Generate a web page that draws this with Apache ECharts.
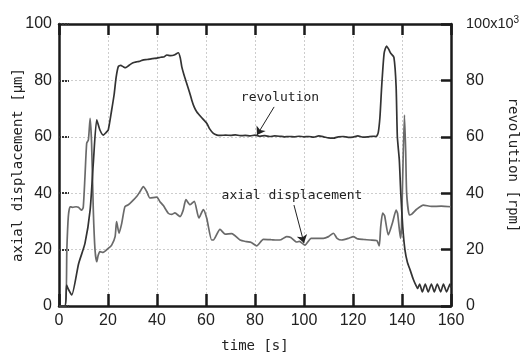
<!DOCTYPE html>
<html>
<head>
<meta charset="utf-8">
<script src="https://cdn.jsdelivr.net/npm/echarts@6/dist/echarts.min.js"></script>
<style>html,body{margin:0;padding:0;background:#fff}#c{width:522px;height:356px}</style>
</head>
<body>
<div id="c"></div>
<script>
// ---- data ----
const xTicks = [0, 20, 40, 60, 80, 100, 120, 140, 160];
const yTicks = [0, 20, 40, 60, 80, 100];

const revTime = [0,2.5,3.1,3.8,5.2,8,10.6,12.7,14,15.4,16.7,18.1,19.2,20.1,21.5,22.5,23.3,24.2,25.2,26.3,27.2,28.5,30,31.7,33,34.5,36,38,40,41.5,43,44,45.5,47,48.7,49.5,50.1,51,52.1,53.2,54.2,55.2,56.2,58,60.3,61.5,63,64.5,66,68,70,72,74,76,78,80,82,84,86,88,90,92,94,96,98,100,102,104,106,108,110,112,114,116,118,120,122,124,126,128,129.5,130.3,131,131.7,132.7,133.7,134.6,135.4,136.7,137.6,138.1,138.9,139.5,140.3,141.2,142.2,143.3,144.6,145.6,146.4,147.2,148.3,149.5,150.7,152,153.2,154.4,155.8,156.9,158.2,159.6,160];
const revValue = [0,0,7.4,6,3.9,15,22.2,34,50.6,66,62.4,60.6,61.5,62.4,69.5,75,81,84.9,85.3,84.8,84.5,85.3,86.2,86.6,86.8,87.3,87.4,87.7,87.9,88.2,88.4,89,88.8,89,89.8,88,84.9,82,79,76,73,70.5,68.9,67,64.8,62.8,61.2,60.6,60.5,60.6,60.5,60.7,60.4,60.5,60.3,60.6,60.2,60.4,60.1,60.3,60.2,60.0,60.1,60.0,60.2,60.0,60.1,59.9,60.3,60.0,59.6,59.5,60.0,60.1,59.8,59.9,60.3,59.9,60.0,60.2,60.1,61.5,67,77.8,89.6,92.2,91,89.6,88.2,77.8,60,51.8,40,28.1,19.9,15.5,12.8,9.5,7.5,6.2,7.8,5,7.8,5,7.8,5,7.8,5,7.8,5,7.8,6.5];

const dispTime = [0,2.6,3.2,3.8,4.5,5.5,7,7.9,9.3,9.9,10.6,11.3,12,12.7,13.3,14,14.7,15.4,16,16.7,18,20.1,21.5,22.9,23.5,24.5,25.6,26.9,28.3,29.7,31.7,33.1,34.4,35.8,37.1,39.9,41.2,42.6,44.6,46,47.3,49.4,50.7,51.8,53.5,55.2,57.1,58.9,60.3,62.3,63,65.7,67.8,70.5,73.9,76.6,78.5,80.7,83.4,86.6,88.8,90.6,92.9,94.6,97,98.1,100.4,102.9,105,107.9,110,112,113.5,115.4,118.5,120.1,122,124.2,127,129.7,130.7,131.3,132.1,132.9,134.4,136.2,137.6,138.2,139.4,139.8,140.4,141,141.5,141.9,143,144,146,148.7,152,156,160];
const dispValue = [0,0,20,31.7,35.2,35,35.2,35,34,35,45.9,57.7,58.9,66.5,57.7,34,19.9,15.7,18,19.3,19,20.4,21.6,24.6,29.9,25.8,29.3,35.2,35.9,37,38.8,40.6,42.3,40.6,38.3,38.6,37,35.6,32.9,32.5,33,31.7,34,37.7,35.9,37.1,31.2,34.2,31.1,23.4,23.4,27.2,25.5,25.7,23.4,22.8,22.5,21.3,23.6,23.5,23.4,23.5,24.6,24.3,22.7,22.9,21.6,24,24,24,24.6,25.8,24,23.4,24.1,24.6,23.8,23.6,23.4,23.2,21.3,28,32.9,32,25.2,29.8,34,32.8,24,28,50,67.7,55,40,32.3,32.6,34.3,35.8,35.3,35.4,35.2];

// annotations (data coordinates)
const revLabel = {text: 'revolution', at: [90.2, 73.8], from: [87.8, 70.6], to: [80.8, 60.6]};
const dispLabel = {text: 'axial displacement', at: [95.1, 39.0], from: [95.9, 35.8], to: [100.0, 22.3]};

const zip = (a, b) => a.map((t, i) => [t, b[i]]);

const tickFont = 'Liberation Sans Narrow, Liberation Sans, Arial, sans-serif';
const monoFont = 'DejaVu Sans Mono, monospace';

const chart = echarts.init(document.getElementById('c'), null, {renderer: 'canvas'});

function annot(lbl) {
  return {
    markPoint: {
      symbol: 'rect', symbolSize: 1, silent: true,
      itemStyle: {color: 'rgba(0,0,0,0)'},
      label: {show: true, position: 'inside', formatter: lbl.text, color: '#222', fontFamily: monoFont, fontSize: 13},
      data: [{coord: lbl.at}]
    },
    markLine: {
      silent: true, symbol: ['none', 'arrow'], symbolSize: 8,
      lineStyle: {color: '#222', width: 1, type: 'solid'},
      label: {show: false},
      data: [[{coord: lbl.from}, {coord: lbl.to}]]
    }
  };
}

const gridLine = {color: '#cdcdcd', type: [2, 2], width: 1};

chart.setOption({
  animation: false,
  backgroundColor: '#fff',
  grid: {left: 59, right: 71, top: 24, bottom: 50, containLabel: false, outerBoundsMode: 'none'},
  xAxis: [{
    type: 'value', min: 0, max: 160, interval: 20, position: 'bottom',
    name: 'time [s]', nameLocation: 'middle', nameGap: 33, nameMoveOverlap: false,
    nameTextStyle: {fontFamily: monoFont, fontSize: 14, color: '#222'},
    axisLine: {show: true, onZero: false, lineStyle: {color: '#1a1a1a', width: 2.5}},
    axisTick: {show: true, inside: true, length: 12, lineStyle: {color: '#1a1a1a', width: 2.5}},
    axisLabel: {show: true, margin: 7, fontFamily: tickFont, fontSize: 16, color: '#222',
      formatter: v => xTicks.includes(v) ? String(v) : ''},
    splitLine: {show: true, lineStyle: gridLine}
  }, {
    type: 'value', min: 0, max: 160, interval: 20, position: 'top',
    axisLine: {show: true, onZero: false, lineStyle: {color: '#1a1a1a', width: 2.5}},
    axisTick: {show: true, inside: true, length: 11, lineStyle: {color: '#1a1a1a', width: 2.5}},
    axisLabel: {show: false},
    splitLine: {show: false}
  }],
  yAxis: [{
    type: 'value', min: 0, max: 100, interval: 20, position: 'left',
    name: 'axial displacement [\u03bcm]', nameLocation: 'middle', nameGap: 34, nameRotate: 90, nameMoveOverlap: false,
    nameTextStyle: {fontFamily: monoFont, fontSize: 14, color: '#222'},
    axisLine: {show: true, onZero: false, lineStyle: {color: '#1a1a1a', width: 2.5}},
    axisTick: {show: true, inside: true, length: 10, lineStyle: {color: '#333', width: 2, type: [2, 1]}},
    axisLabel: {margin: 7, fontFamily: tickFont, fontSize: 16, color: '#222',
      formatter: v => yTicks.includes(v) ? String(v) : ''},
    splitLine: {show: true, lineStyle: gridLine}
  }, {
    type: 'value', min: 0, max: 100, interval: 20, position: 'right',
    name: 'revolution [rpm]', nameLocation: 'middle', nameGap: 55, nameRotate: -90, nameMoveOverlap: false,
    nameTextStyle: {fontFamily: monoFont, fontSize: 14, color: '#222'},
    axisLine: {show: true, onZero: false, lineStyle: {color: '#1a1a1a', width: 2.5}},
    axisTick: {show: true, inside: true, length: 10, lineStyle: {color: '#1a1a1a', width: 2.5}},
    axisLabel: {margin: 15, fontFamily: tickFont, fontSize: 16, color: '#222',
      formatter: v => v === 100 ? '{big|100x10}{sup|3}' : String(v),
      rich: {
        big: {fontFamily: tickFont, fontSize: 14.5, color: '#222'},
        sup: {fontFamily: tickFont, fontSize: 10, color: '#222', padding: [0, 0, 8, 0]}
      }},
    splitLine: {show: false}
  }],
  series: [
    Object.assign({
      type: 'line', name: 'axial displacement', xAxisIndex: 0, yAxisIndex: 0,
      data: zip(dispTime, dispValue), showSymbol: false, symbol: 'none', smooth: 0.2,
      lineStyle: {color: '#6a6a6a', width: 1.7}, z: 3
    }, annot(dispLabel)),
    Object.assign({
      type: 'line', name: 'revolution', xAxisIndex: 0, yAxisIndex: 1,
      data: zip(revTime, revValue), showSymbol: false, symbol: 'none', smooth: 0.2,
      lineStyle: {color: '#333', width: 1.7}, z: 4
    }, annot(revLabel))
  ]
});
</script>
</body>
</html>
